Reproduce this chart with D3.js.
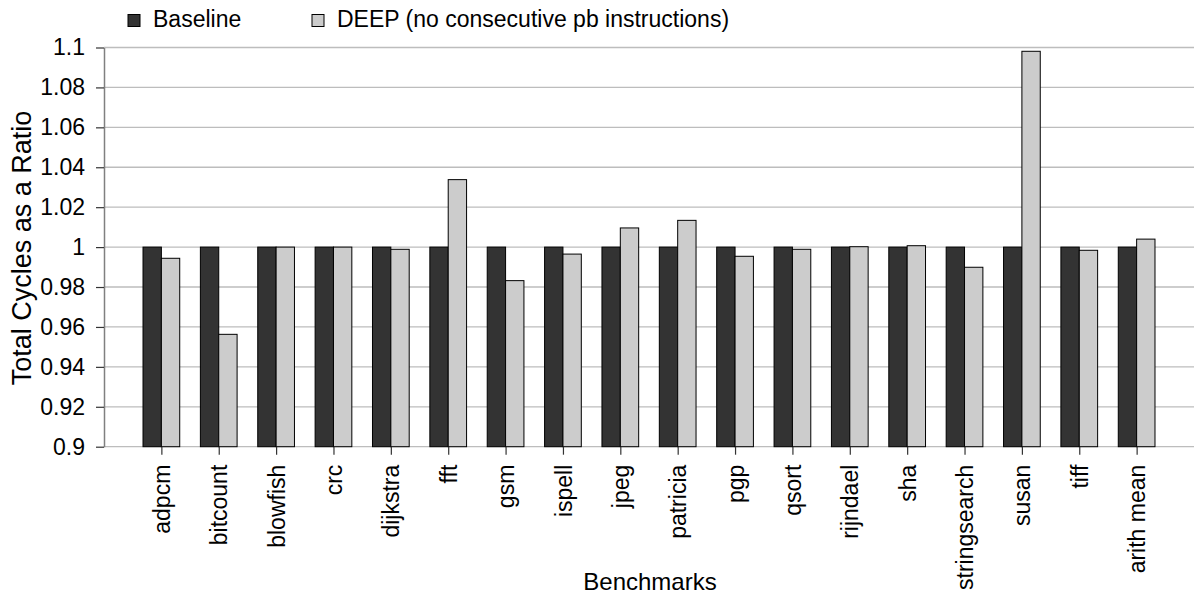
<!DOCTYPE html>
<html>
<head>
<meta charset="utf-8">
<script src="https://cdn.jsdelivr.net/npm/d3@7"></script>
<style>
  html, body { margin: 0; padding: 0; background: #ffffff; }
  svg { display: block; font-family: "Liberation Sans", Arial, Helvetica, sans-serif; }
</style>
</head>
<body>
<svg id="chart" width="1194" height="594"></svg>
<script>
// Benchmarks on the category axis
const categories = ["adpcm", "bitcount", "blowfish", "crc", "dijkstra", "fft", "gsm", "ispell",
  "jpeg", "patricia", "pgp", "qsort", "rijndael", "sha", "stringsearch", "susan", "tiff", "arith mean"];

// Total cycles, normalised to the baseline
const baselineValues = [1, 1, 1, 1, 1, 1, 1, 1, 1, 1, 1, 1, 1, 1, 1, 1, 1, 1];
const deepValues = [0.9944, 0.9563, 1.0000, 1.0000, 0.9989, 1.0338, 0.9832, 0.9965,
  1.0096, 1.0134, 0.9954, 0.9989, 1.0002, 1.0007, 0.9899, 1.0981, 0.9984, 1.0040];

const seriesNames = ["Baseline", "DEEP (no consecutive pb instructions)"];
const yTickValues = [0.9, 0.92, 0.94, 0.96, 0.98, 1.0, 1.02, 1.04, 1.06, 1.08, 1.1];
const yTickLabels = ["0.9", "0.92", "0.94", "0.96", "0.98", "1", "1.02", "1.04", "1.06", "1.08", "1.1"];

const colors = { baseline: "#333333", deep: "#cccccc" };

const svg = d3.select("#chart");
const plot = { left: 104, right: 1194, top: 47.5, bottom: 446.7 };

const x = d3.scalePoint().domain(categories).range([plot.left, plot.right]).padding(1);
const y = d3.scaleLinear().domain([0.9, 1.1]).range([plot.bottom, plot.top]);
const barW = x.step() * 0.32;

// horizontal gridlines
svg.append("g")
  .selectAll("line")
  .data(yTickValues)
  .join("line")
  .attr("x1", plot.left).attr("x2", plot.right)
  .attr("y1", d => y(d)).attr("y2", d => y(d))
  .attr("stroke", "#bdbdbd")
  .attr("stroke-width", 1.3);

// bars
const groups = svg.append("g")
  .selectAll("g")
  .data(categories.map((c, i) => ({ c, base: baselineValues[i], deep: deepValues[i] })))
  .join("g");

groups.append("rect")
  .attr("x", d => x(d.c) - barW)
  .attr("y", d => y(d.base))
  .attr("width", barW)
  .attr("height", d => y(0.9) - y(d.base))
  .attr("fill", colors.baseline)
  .attr("stroke", "#000")
  .attr("stroke-width", 1);

groups.append("rect")
  .attr("x", d => x(d.c))
  .attr("y", d => y(d.deep))
  .attr("width", barW)
  .attr("height", d => y(0.9) - y(d.deep))
  .attr("fill", colors.deep)
  .attr("stroke", "#000")
  .attr("stroke-width", 1);

// y axis
const yAxis = svg.append("g")
  .attr("transform", `translate(${plot.left},0)`)
  .call(d3.axisLeft(y)
    .tickValues(yTickValues)
    .tickFormat((d, i) => yTickLabels[i])
    .tickSize(8)
    .tickPadding(11)
    .tickSizeOuter(0));
yAxis.select(".domain").attr("stroke", "#808080").attr("stroke-width", 1.5);
yAxis.selectAll(".tick line").attr("stroke", "#333").attr("stroke-width", 1.2);
yAxis.selectAll(".tick text")
  .attr("font-size", 23)
  .attr("font-family", "Liberation Sans, Arial, sans-serif")
  .attr("fill", "#000");

// x axis
const xAxis = svg.append("g")
  .attr("transform", `translate(0,${plot.bottom})`)
  .call(d3.axisBottom(x).tickSize(8).tickSizeOuter(0));
xAxis.select(".domain").remove();
xAxis.selectAll(".tick line").attr("stroke", "#333").attr("stroke-width", 1.2);
xAxis.selectAll(".tick text")
  .attr("font-size", 23)
  .attr("font-family", "Liberation Sans, Arial, sans-serif")
  .attr("fill", "#000")
  .attr("text-anchor", "end")
  .attr("transform", "rotate(-90)")
  .attr("x", -18)
  .attr("y", 0)
  .attr("dy", "0.35em");

// axis titles
svg.append("text")
  .attr("x", 650)
  .attr("y", 590)
  .attr("text-anchor", "middle")
  .attr("font-size", 24)
  .text("Benchmarks");

svg.append("text")
  .attr("transform", "translate(31,248) rotate(-90)")
  .attr("text-anchor", "middle")
  .attr("font-size", 27)
  .text("Total Cycles as a Ratio");

// legend
const legend = svg.append("g");
const legendItems = [
  { name: seriesNames[0], color: colors.baseline, x: 128 },
  { name: seriesNames[1], color: colors.deep, x: 312 }
];
const li = legend.selectAll("g").data(legendItems).join("g")
  .attr("transform", d => `translate(${d.x},0)`);
li.append("rect")
  .attr("x", 0).attr("y", 14.5)
  .attr("width", 12).attr("height", 12)
  .attr("fill", d => d.color)
  .attr("stroke", "#000")
  .attr("stroke-width", 1);
li.append("text")
  .attr("x", 25)
  .attr("y", 27)
  .attr("font-size", 23)
  .text(d => d.name);
</script>
</body>
</html>
